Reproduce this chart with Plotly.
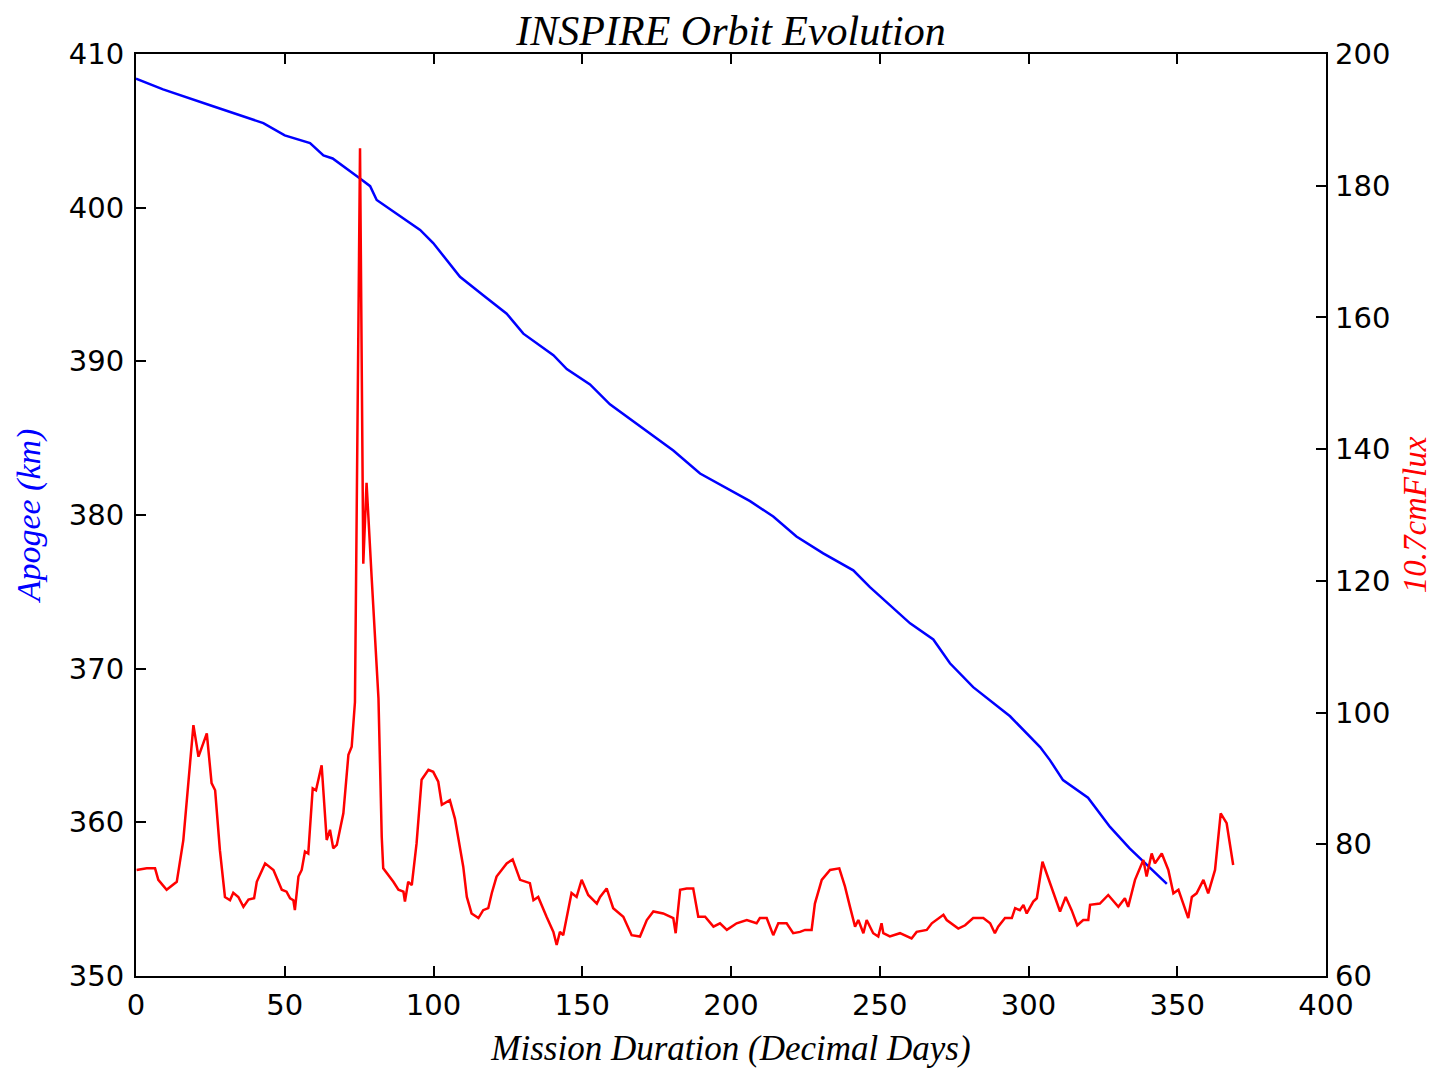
import plotly.graph_objects as go

# Apogee (blue, left axis)
apogee_days = [0, 9.1, 25.9, 42.8, 50, 58.5, 63.0, 66.1, 75.3, 78.7, 80.9, 87.6, 93.2, 95.5, 99.9,
               108.9, 116.7, 124.6, 130.2, 140.3, 144.8, 152.6, 159.3, 169.4, 180.6, 189.6,
               199.7, 206.4, 214.2, 222.0, 231.0, 241.1, 246.7, 260.2, 268.0, 273.6, 281.4,
               293.8, 303.9, 307.2, 311.6, 320.0, 327.4, 334.0, 346.5]
apogee_km = [408.4, 407.7, 406.6, 405.5, 404.7, 404.2, 403.4, 403.2, 401.9, 401.4, 400.5, 399.6,
             398.9, 398.55, 397.7, 395.5, 394.3, 393.1, 391.8, 390.4, 389.5, 388.5, 387.2,
             385.75, 384.2, 382.7, 381.6, 380.9, 379.9, 378.6, 377.5, 376.4, 375.3, 372.95,
             371.9, 370.35, 368.8, 366.9, 364.9, 364.05, 362.75, 361.6, 359.7, 358.3, 356.0]

# 10.7 cm flux (red, right axis)
flux_days = [0.2, 3.6, 6.4, 7.5, 10.3, 13.7, 15.9, 17.6, 19.3, 21.0, 23.8, 25.4, 26.6, 28.2, 29.9,
             31.6, 32.7, 34.4, 36.1, 37.8, 39.7, 40.6, 43.4, 46.2, 49.0, 50.6, 51.8, 52.9, 53.4,
             54.6, 55.7, 56.8, 57.9, 59.4, 60.5, 62.4, 64.1, 65.2, 66.3, 67.5, 69.7, 71.4, 72.5,
             73.6, 75.3, 76.4, 77.5, 79.2, 81.5, 82.6, 83.1, 86.5, 88.2, 89.9, 90.4, 91.5, 92.7,
             94.3, 96.0, 98.3, 99.9, 101.6, 102.8, 105.5, 107.2, 110.0, 111.2, 112.8, 115.1,
             116.7, 118.4, 119.6, 121.2, 124.6, 126.6, 129.1, 132.4, 133.6, 135.2, 138.0, 140.3,
             141.4, 142.5, 143.6, 146.4, 148.1, 149.8, 152.0, 154.9, 156.0, 158.2, 160.4, 163.8,
             166.6, 169.4, 171.7, 173.9, 177.2, 180.6, 181.4, 182.9, 185.1, 187.3, 189.0, 191.3,
             194.1, 196.3, 198.6, 201.9, 205.3, 208.6, 209.7, 212.0, 214.2, 215.9, 218.7, 220.9,
             223.2, 224.9, 227.1, 228.2, 230.5, 233.3, 236.4, 238.3, 240.0, 241.7, 242.8, 244.5,
             245.6, 247.8, 249.5, 250.6, 251.2, 253.4, 256.8, 260.7, 262.4, 265.8, 267.5, 271.4,
             272.5, 276.4, 278.7, 281.4, 284.8, 287.1, 288.7, 289.8, 292.1, 294.4, 295.5, 297.1,
             298.3, 299.4, 301.6, 302.8, 304.7, 306.1, 307.8, 310.6, 312.5, 314.5, 316.4, 318.4,
             320.1, 320.7, 324.0, 326.8, 330.2, 332.4, 333.5, 335.8, 338.6, 339.7, 341.4, 342.5,
             344.8, 347.0, 348.7, 350.4, 353.7, 354.9, 356.5, 358.8, 360.4, 362.7, 364.6, 366.6,
             368.8]
flux_values = [76.1, 76.35, 76.35, 74.6, 73.1, 74.3, 80.6, 89.3, 98.1, 93.3, 96.85, 89.3, 88.2, 79.1,
               72.0, 71.5, 72.65, 72.0, 70.5, 71.6, 71.8, 74.3, 77.1, 76.1, 73.1, 72.8, 71.8, 71.5,
               70.0, 75.1, 76.1, 78.9, 78.6, 88.5, 88.2, 92.0, 80.65, 82.2, 79.4, 79.9, 84.7, 93.6,
               94.8, 101.6, 185.7, 122.6, 134.9, 120.6, 102.2, 81.1, 76.35, 74.3, 73.1, 72.8, 71.3,
               74.3, 73.8, 80.1, 89.8, 91.3, 91.0, 89.5, 86.0, 86.7, 83.9, 76.6, 72.0, 69.5, 68.8,
               70.0, 70.3, 72.6, 75.1, 77.1, 77.7, 74.6, 74.1, 71.5, 72.0, 69.0, 66.7, 64.7, 66.7,
               66.2, 72.6, 72.0, 74.6, 72.3, 71.0, 72.0, 73.3, 70.3, 69.0, 66.2, 66.0, 68.5, 69.8,
               69.5, 68.8, 66.5, 73.1, 73.3, 73.3, 69.0, 69.0, 67.5, 68.0, 67.0, 68.0, 68.5, 68.0,
               68.8, 68.8, 66.2, 68.0, 68.0, 66.5, 66.7, 67.0, 67.0, 71.0, 74.6, 76.1, 76.35, 73.6,
               70.5, 67.5, 68.5, 66.5, 68.5, 66.5, 66.0, 68.0, 66.5, 66.0, 66.5, 65.7, 66.7, 67.0,
               68.0, 69.3, 68.5, 67.2, 67.7, 68.8, 68.8, 68.0, 66.5, 67.5, 68.8, 68.8, 70.3, 70.0,
               70.8, 69.5, 71.3, 71.8, 77.35, 75.6, 73.6, 69.8, 72.0, 70.0, 67.7, 68.5, 68.5, 70.8,
               71.0, 72.3, 70.5, 71.8, 70.5, 74.6, 77.6, 75.1, 78.6, 77.1, 78.6, 76.1, 72.55, 73.1,
               68.8, 72.0, 72.55, 74.6, 72.55, 76.1, 84.7, 83.2, 76.85]

x_ticks = [0, 50, 100, 150, 200, 250, 300, 350, 400]
left_ticks = [350, 360, 370, 380, 390, 400, 410]
right_ticks = [60, 80, 100, 120, 140, 160, 180, 200]

fig = go.Figure()
fig.add_trace(go.Scatter(x=apogee_days, y=apogee_km, mode="lines",
                         line=dict(color="#0000ff", width=2.5), showlegend=False))
fig.add_trace(go.Scatter(x=flux_days, y=flux_values, mode="lines", yaxis="y2",
                         line=dict(color="#ff0000", width=2.5), showlegend=False))

tickfont = dict(family="DejaVu Sans", size=29, color="black")
serif = "Liberation Serif"

fig.update_layout(
    width=1425, height=1060,
    paper_bgcolor="white", plot_bgcolor="white",
    margin=dict(l=128, r=107, t=46, b=92, autoexpand=False),
    title=dict(text="<i>INSPIRE Orbit Evolution</i>", x=0.5, xanchor="center",
               xref="paper", y=0.979, yref="container", yanchor="middle",
               font=dict(family=serif, size=42, color="black")),
    xaxis=dict(range=[0, 400], tickvals=x_ticks, ticks="inside", ticklen=10, tickwidth=1.5,
               tickcolor="black", showline=True, linecolor="black", linewidth=2,
               mirror="ticks", showgrid=False, zeroline=False, tickfont=tickfont,
               ticklabelstandoff=2, automargin=False,
               title=dict(text="<i>Mission Duration (Decimal Days)</i>", standoff=25,
                          font=dict(family=serif, size=35, color="black"))),
    yaxis=dict(range=[350, 410], tickvals=left_ticks, ticks="inside", ticklen=10, tickwidth=1.5,
               tickcolor="black", showline=True, linecolor="black", linewidth=2,
               mirror=True, showgrid=False, zeroline=False, tickfont=tickfont,
               ticklabelstandoff=4, automargin=False,
               title=dict(text="<i>Apogee (km)</i>", standoff=18,
                          font=dict(family=serif, size=34, color="#0000ff"))),
    yaxis2=dict(range=[60, 200], tickvals=right_ticks, overlaying="y", side="right",
                ticks="inside", ticklen=10, tickwidth=1.5, tickcolor="black",
                showline=False, showgrid=False, zeroline=False, tickfont=tickfont,
                ticklabelstandoff=8, automargin=False,
                title=dict(text="<i>10.7cmFlux</i>", standoff=15,
                           font=dict(family=serif, size=33, color="#ff0000"))),
)

fig.write_html("out.html")
